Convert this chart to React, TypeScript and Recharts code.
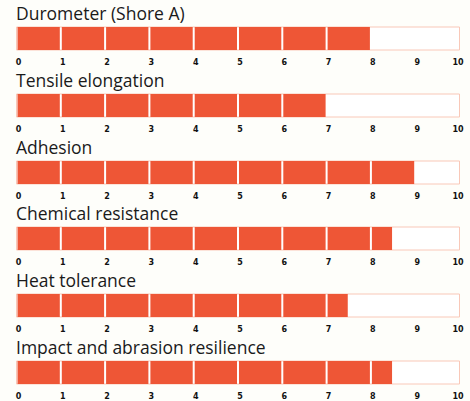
import React from "react";
import { BarChart, Bar, XAxis, YAxis, ReferenceArea } from "recharts";

const categories = [
  "Durometer (Shore A)",
  "Tensile elongation",
  "Adhesion",
  "Chemical resistance",
  "Heat tolerance",
  "Impact and abrasion resilience",
];
const values = [8, 7, 9, 8.5, 7.5, 8.5];
const tickValues = [0, 1, 2, 3, 4, 5, 6, 7, 8, 9, 10];
const segmentKeys = ["s0", "s1", "s2", "s3", "s4", "s5", "s6", "s7", "s8", "s9"];

const ORANGE = "#EE5636";
const OUTLINE = "#F9C8B8";
const PITCH = 66.8;

const SegShape = (props: any) => {
  const { x, y, width, height } = props;
  if (!width || width <= 0) return null;
  return <rect x={x + 1} y={y} width={Math.max(0, width - 2)} height={height} fill={ORANGE} />;
};

const Tick = (props: any) => {
  const { x, y, payload } = props;
  const off = payload.value === 10 ? -1.5 : 2;
  return (
    <text
      x={x + off}
      y={y}
      dy="0.71em"
      textAnchor="middle"
      fontSize={8}
      fontWeight="bold"
      fontFamily="DejaVu Sans"
      fill="#111"
    >
      {payload.value}
    </text>
  );
};

function Panel({ title, value, top }: { title: string; value: number; top: number }) {
  const row: any = { name: title };
  segmentKeys.forEach((k, i) => {
    row[k] = Math.max(0, Math.min(1, value - i));
  });
  return (
    <div style={{ position: "absolute", left: 0, top, width: 470, height: 67 }}>
      <div
        style={{
          position: "absolute",
          left: 16,
          top: 3,
          fontFamily: "Open Sans",
          fontSize: 17.5,
          color: "#1a1a1a",
          lineHeight: "20px",
          whiteSpace: "nowrap",
        }}
      >
        {title}
      </div>
      <BarChart
        width={470}
        height={67}
        data={[row]}
        layout="vertical"
        margin={{ top: 27, right: 10.5, bottom: 0, left: 16.5 }}
        barCategoryGap={0}
      >
        <XAxis
          type="number"
          domain={[0, 10]}
          ticks={tickValues}
          interval={0}
          axisLine={false}
          tickLine={false}
          tickSize={4}
          tickMargin={5}
          height={17}
          tick={<Tick />}
        />
        <YAxis type="category" dataKey="name" hide />
        <ReferenceArea x1={0} x2={10} fill="#ffffff" fillOpacity={1} stroke={OUTLINE} strokeWidth={1} />
        {segmentKeys.map((k) => (
          <Bar key={k} dataKey={k} stackId="a" isAnimationActive={false} shape={<SegShape />} />
        ))}
      </BarChart>
    </div>
  );
}

export default function App() {
  return (
    <div
      style={{
        position: "absolute",
        left: 0,
        top: 0,
        width: 470,
        height: 401,
        background: "#FEFEFA",
      }}
    >
      {categories.map((c, i) => (
        <Panel key={c} title={c} value={values[i]} top={i * PITCH} />
      ))}
    </div>
  );
}
